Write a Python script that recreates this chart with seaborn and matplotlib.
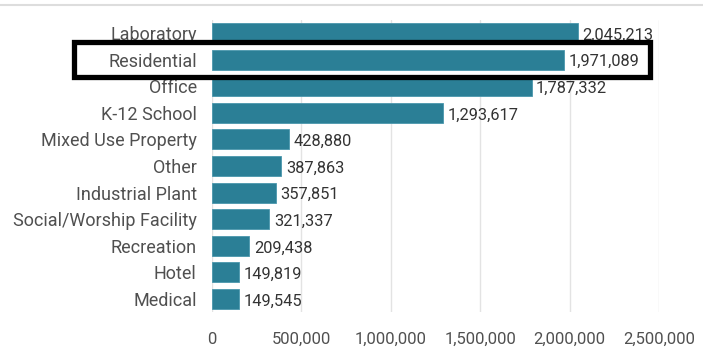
import matplotlib
matplotlib.use("Agg")
import matplotlib.pyplot as plt
import seaborn as sns
import pandas as pd
from matplotlib.patches import Rectangle
from matplotlib.lines import Line2D
from matplotlib.ticker import FuncFormatter

categories = ["Laboratory", "Residential", "Office", "K-12 School", "Mixed Use Property",
              "Other", "Industrial Plant", "Social/Worship Facility", "Recreation",
              "Hotel", "Medical"]
values = [2045213, 1971089, 1787332, 1293617, 428880, 387863, 357851, 321337,
          209438, 149819, 149545]
x_ticks = [0, 500000, 1000000, 1500000, 2000000, 2500000]

df = pd.DataFrame({"category": categories, "value": values})

sns.set_style("white")
plt.rcParams["font.family"] = ["Roboto", "DejaVu Sans"]

fig = plt.figure(figsize=(7.03, 3.51), dpi=100)
W, H = 703, 351
left, right = 212 / W, 659 / W
top, bottom = 1 - 19.7 / H, 1 - 312.3 / H
ax = fig.add_axes([left, bottom, right - left, top - bottom])

sns.barplot(data=df, x="value", y="category", orient="h", color="#2b7f96",
            saturation=1, width=0.75, ax=ax, edgecolor="#4a97ad", linewidth=0.6)

ax.set_xlim(0, 2500000)
ax.set_ylim(len(categories) - 0.5, -0.5)
ax.set_xticks(x_ticks)
ax.xaxis.set_major_formatter(FuncFormatter(lambda v, p: f"{int(v):,}"))
ax.set_axisbelow(True)
ax.grid(axis="x", color="#e3e3e3", linewidth=1.0)
ax.grid(axis="y", visible=False)
for s in ax.spines.values():
    s.set_visible(False)
ax.set_xlabel("")
ax.set_ylabel("")
ax.tick_params(axis="y", length=0, pad=11, labelsize=13, labelcolor="#505050")
ax.tick_params(axis="x", length=0, pad=14, labelsize=12, labelcolor="#505050")

for i, v in enumerate(values):
    ax.text(v + 25000, i + 0.08, f"{v:,}", va="center", ha="left",
            fontsize=11.8, color="#333333")

# white band behind highlighted row (covers gridlines only)
ax.add_patch(Rectangle((0, 1 - 0.64), 2450000, 1.28,
                       facecolor="white", edgecolor="none", zorder=0.8))

# black highlight rectangle (figure pixel coords)
x0, x1 = 74 / W, 650 / W
y0, y1 = 1 - 77 / H, 1 - 42.5 / H
fig.add_artist(Rectangle((x0, y0), x1 - x0, y1 - y0, transform=fig.transFigure,
                         facecolor="none", edgecolor="black", linewidth=3.8, zorder=10))

# faint top border line
fig.add_artist(Line2D([0, 1], [1 - 5 / H, 1 - 5 / H], transform=fig.transFigure,
                      color="#dddddd", linewidth=1.5))

fig.savefig("out.png", dpi=100)
